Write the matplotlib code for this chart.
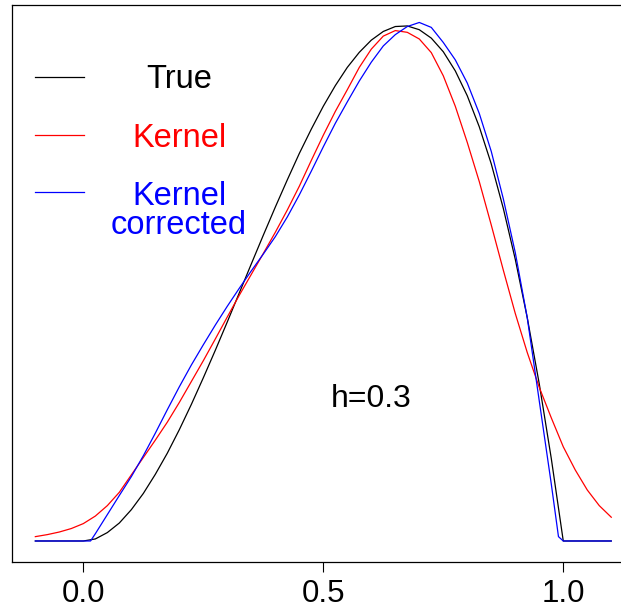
import matplotlib
matplotlib.use("Agg")

import matplotlib.pyplot as plt

plt.rcParams["font.family"] = ["Liberation Sans", "DejaVu Sans"]

# true density on [0, 1], zero outside
true_x = [-0.1, 0.0, 0.025, 0.05, 0.075, 0.1, 0.125, 0.15, 0.175, 0.2, 0.225,
          0.25, 0.275, 0.3, 0.325, 0.35, 0.375, 0.4, 0.425, 0.45, 0.475, 0.5,
          0.525, 0.55, 0.575, 0.6, 0.625, 0.65, 0.675, 0.7, 0.725, 0.75, 0.775,
          0.8, 0.825, 0.85, 0.875, 0.9, 0.925, 0.95, 0.975, 1.0, 1.1]
true_y = [0.0, 0.0, 0.007, 0.029, 0.062, 0.108, 0.164, 0.230, 0.303, 0.384, 0.471,
          0.563, 0.658, 0.756, 0.856, 0.956, 1.055, 1.152, 1.246, 1.337, 1.421, 1.500,
          1.571, 1.634, 1.686, 1.728, 1.758, 1.775, 1.777, 1.764, 1.735, 1.688, 1.622,
          1.536, 1.429, 1.301, 1.148, 0.972, 0.770, 0.542, 0.285, 0.0, 0.0]

# plain kernel estimate
kern_x = [-0.1, -0.075, -0.05, -0.025, 0.0, 0.025, 0.05, 0.075, 0.1, 0.125, 0.15,
          0.175, 0.2, 0.225, 0.25, 0.275, 0.3, 0.325, 0.35, 0.375, 0.4, 0.425,
          0.45, 0.475, 0.5, 0.525, 0.55, 0.575, 0.6, 0.625, 0.65, 0.675, 0.7,
          0.725, 0.75, 0.775, 0.8, 0.825, 0.85, 0.875, 0.9, 0.925, 0.95, 0.975,
          1.0, 1.025, 1.05, 1.075, 1.1]
kern_y = [0.015, 0.022, 0.031, 0.043, 0.060, 0.086, 0.122, 0.168, 0.228, 0.288, 0.348,
          0.410, 0.478, 0.550, 0.622, 0.697, 0.773, 0.848, 0.920, 0.992, 1.065, 1.142,
          1.224, 1.313, 1.400, 1.482, 1.557, 1.634, 1.697, 1.742, 1.761, 1.755, 1.732,
          1.685, 1.605, 1.500, 1.375, 1.240, 1.090, 0.935, 0.785, 0.650, 0.530, 0.425,
          0.325, 0.245, 0.176, 0.122, 0.082]

# boundary corrected kernel estimate
corr_x = [-0.1, 0.015, 0.025, 0.05, 0.075, 0.1, 0.125, 0.15, 0.175, 0.2, 0.225,
          0.25, 0.275, 0.3, 0.325, 0.35, 0.375, 0.4, 0.425, 0.45, 0.475, 0.5,
          0.525, 0.55, 0.575, 0.6, 0.625, 0.65, 0.675, 0.7, 0.725, 0.75, 0.775,
          0.8, 0.825, 0.85, 0.875, 0.9, 0.925, 0.95, 0.975, 0.99, 1.0, 1.1]
corr_y = [0.0, 0.0, 0.025, 0.091, 0.157, 0.222, 0.294, 0.372, 0.453, 0.532, 0.607,
          0.677, 0.745, 0.810, 0.872, 0.932, 0.990, 1.050, 1.118, 1.194, 1.276, 1.360,
          1.441, 1.515, 1.587, 1.652, 1.708, 1.747, 1.775, 1.789, 1.772, 1.720, 1.660,
          1.580, 1.475, 1.344, 1.181, 0.995, 0.770, 0.483, 0.197, 0.015, 0.0, 0.0]

legend_labels = ["True", "Kernel", "Kernel\ncorrected"]
legend_colors = ["black", "red", "blue"]
bandwidth = 0.3

fig = plt.figure(figsize=(6.21, 6.09), dpi=100)
ax = fig.add_axes([12.3 / 621, 47 / 609, 622 / 621, 557.5 / 609])

ax.plot(true_x, true_y, color="black", lw=0.9)
ax.plot(kern_x, kern_y, color="red", lw=0.9)
ax.plot(corr_x, corr_y, color="blue", lw=0.9)

ax.set_xlim(-0.148, 1.148)
ax.set_ylim(-0.0725, 1.851)

ax.set_xticks([0.0, 0.5, 1.0])
ax.set_xticklabels(["0.0", "0.5", "1.0"])
ax.set_yticks([])
ax.tick_params(axis="x", direction="out", length=7.2, width=0.8,
               labelsize=22.5, pad=5)
for s in ax.spines.values():
    s.set_linewidth(0.9)

# hand-made legend: short segment on the left, centred label on the right
seg_y = [0.870, 0.766, 0.6637]
base_y = [0.8502, 0.7449, 0.6404]
for lab, col, sy, by in zip(legend_labels, legend_colors, seg_y, base_y):
    ax.plot([0.0365, 0.1153], [sy, sy], color=col, lw=0.9,
            transform=ax.transAxes, clip_on=False)
    lines = lab.split("\n")
    for k, line in enumerate(lines):
        ax.text(0.268, by - k * 0.0525, line, color=col, fontsize=23.5,
                ha="center", va="baseline", transform=ax.transAxes)

ax.text(0.5767, 0.2786, f"h={bandwidth}", fontsize=23, ha="center",
        va="baseline", transform=ax.transAxes)

fig.savefig("out.png", dpi=100)
plt.close(fig)
